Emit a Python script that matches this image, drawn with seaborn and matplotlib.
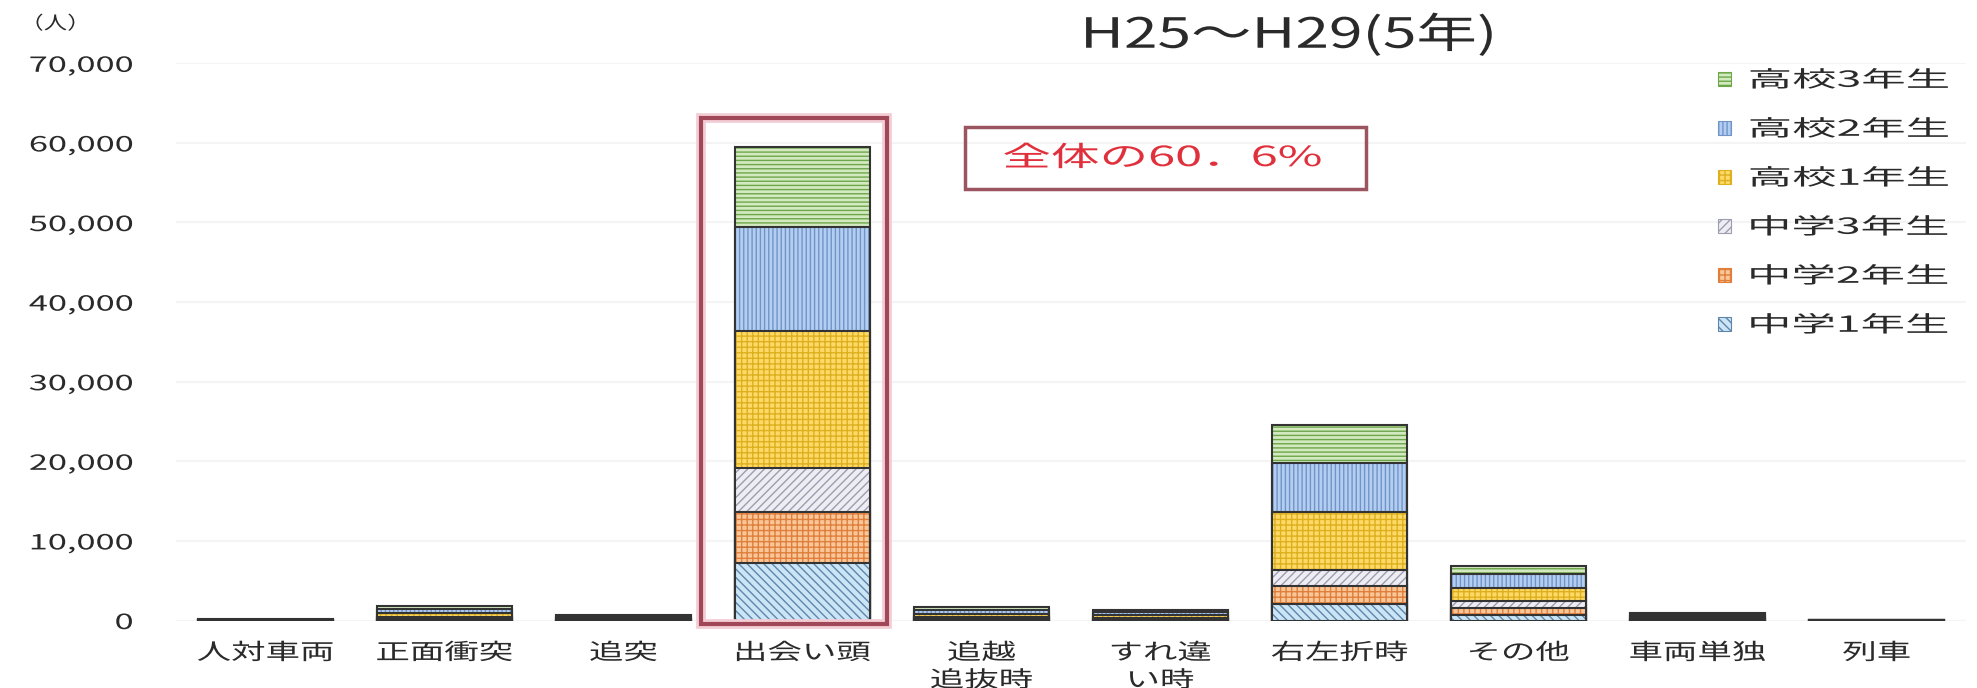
import numpy as np
import matplotlib
matplotlib.use("Agg")
import matplotlib.pyplot as plt
import seaborn as sns
from matplotlib.patches import Patch, Rectangle
from matplotlib.patheffects import AbstractPathEffect
from matplotlib.transforms import Affine2D
from matplotlib.ticker import StrMethodFormatter

# accident types (x axis)
categories = ['人対車両', '正面衝突', '追突', '出会い頭', '追越\n追抜時',
              'すれ違\nい時', '右左折時', 'その他', '車両単独', '列車']

# casualties per grade, H25-H29 total
chu1 = [10, 150, 40, 7200, 130, 100, 2100, 750, 80, 3]
chu2 = [10, 170, 50, 6400, 140, 110, 2200, 850, 90, 3]
chu3 = [15, 160, 60, 5600, 150, 120, 2000, 800, 90, 4]
kou1 = [40, 480, 200, 17200, 460, 350, 7300, 1700, 260, 10]
kou2 = [40, 450, 180, 13000, 430, 330, 6200, 1700, 260, 10]
kou3 = [35, 390, 170, 10100, 390, 290, 4800, 1000, 220, 10]

grades = ['中学1年生', '中学2年生', '中学3年生', '高校1年生', '高校2年生', '高校3年生']
share_label = '全体の60．6%'

face = ['#cbe5f6', '#f9c698', '#ededf3', '#ffd966', '#b3cef0', '#d3e9c0']
hatch_col = ['#5f86aa', '#e07f3c', '#9d9db0', '#ddb020', '#7194c8', '#6ea64a']
hatches = ['\\\\\\\\', '+++', '////', '+++', '||||', '----']


class Stretch(AbstractPathEffect):
    """draw text wider than the font (the source picture is stretched)"""
    def __init__(self, sx=1.6, anchor=0.5):
        super().__init__()
        self.sx = sx
        self.anchor = anchor

    def draw_path(self, renderer, gc, tpath, affine, rgbFace=None):
        ext = tpath.get_extents()
        x0 = ext.x0 + self.anchor * ext.width
        t = Affine2D().translate(-x0, 0).scale(self.sx, 1).translate(x0, 0)
        renderer.draw_path(gc, tpath, t + affine, rgbFace)


sns.set_theme(style='white')
plt.rcParams['font.family'] = ['Noto Sans CJK JP', 'DejaVu Sans']
plt.rcParams['hatch.linewidth'] = 1.0

fig = plt.figure(figsize=(19.77, 6.88), dpi=100)
ax = fig.add_axes([0.089, 0.0981, 0.9055, 0.8099])

stack = np.cumsum([chu1, chu2, chu3, kou1, kou2, kou3], axis=0)

# draw cumulative bars from the top segment down so each one covers the next
for i in range(5, -1, -1):
    n0 = len(ax.patches)
    sns.barplot(x=categories, y=stack[i], order=categories, color=face[i],
                saturation=1, width=0.75, errorbar=None, ax=ax)
    for p in ax.patches[n0:]:
        p.set_hatch(hatches[i])
        p.set_edgecolor(hatch_col[i])
        p.set_linewidth(0)
    n0 = len(ax.patches)
    sns.barplot(x=categories, y=stack[i], order=categories, color=face[i],
                saturation=1, width=0.75, errorbar=None, ax=ax)
    for p in ax.patches[n0:]:
        p.set_facecolor('none')
        p.set_edgecolor('#333333')
        p.set_linewidth(1.5)

ax.set_xlim(-0.5, 9.5)
ax.set_ylim(0, 70000)
ax.set_yticks(range(0, 70001, 10000))
ax.yaxis.set_major_formatter(StrMethodFormatter('{x:,.0f}'))
ax.yaxis.grid(True, color='#f4f4f4', lw=1.5)
ax.set_axisbelow(True)
for s in ax.spines.values():
    s.set_visible(False)
ax.set_xlabel('')
ax.set_ylabel('')
ax.tick_params(axis='y', length=0, pad=31, labelsize=15, labelcolor='#2a2a2a')
ax.tick_params(axis='x', length=0, pad=15, labelsize=16, labelcolor='#2a2a2a')
for lbl in ax.get_yticklabels():
    lbl.set_path_effects([Stretch(1.65, 1.0)])
for lbl in ax.get_xticklabels():
    lbl.set_linespacing(1.25)
    lbl.set_path_effects([Stretch(1.55, 0.5)])

# frame around the 出会い頭 bar
k = categories.index('出会い頭')
ax.add_patch(Rectangle((k - 0.565, -500), 1.035, 63600, fill=False,
                       edgecolor='#f3cdd6', lw=7, clip_on=False, zorder=4))
ax.add_patch(Rectangle((k - 0.565, -500), 1.035, 63600, fill=False,
                       edgecolor='#a04858', lw=3, clip_on=False, zorder=5))

# share annotation
ax.add_patch(Rectangle((3.905, 54200), 2.24, 7800, fill=False,
                       edgecolor='#9a5560', lw=2.5, zorder=5))
t = ax.text(5.01, 58100, share_label, ha='center', va='center',
            fontsize=20, color='#e0303c', zorder=6)
t.set_path_effects([Stretch(1.75, 0.5)])

# legend, top grade first
handles = [Patch(facecolor=face[i], edgecolor=hatch_col[i], hatch=hatches[i],
                 linewidth=0.8, label=grades[i]) for i in range(5, -1, -1)]
leg = fig.legend(handles=handles, loc='upper left', bbox_to_anchor=(0.869, 0.900),
                 bbox_transform=fig.transFigure, frameon=False, fontsize=16,
                 handlelength=0.6, handleheight=0.6, handletextpad=0.8,
                 labelspacing=1.17, borderpad=0, borderaxespad=0)
for txt in leg.get_texts():
    txt.set_color('#2a2a2a')
    txt.set_path_effects([Stretch(2.0, 0.0)])

title = fig.text(0.652, 0.949, 'H25～H29(5年)', ha='center', va='center',
                 fontsize=30, color='#2a2a2a')
title.set_path_effects([Stretch(1.45, 0.5)])

unit = fig.text(0.028, 0.965, '（人）', ha='center', va='center',
                fontsize=13, color='#2a2a2a')
unit.set_path_effects([Stretch(1.3, 0.5)])

fig.savefig('out.png', dpi=100)
